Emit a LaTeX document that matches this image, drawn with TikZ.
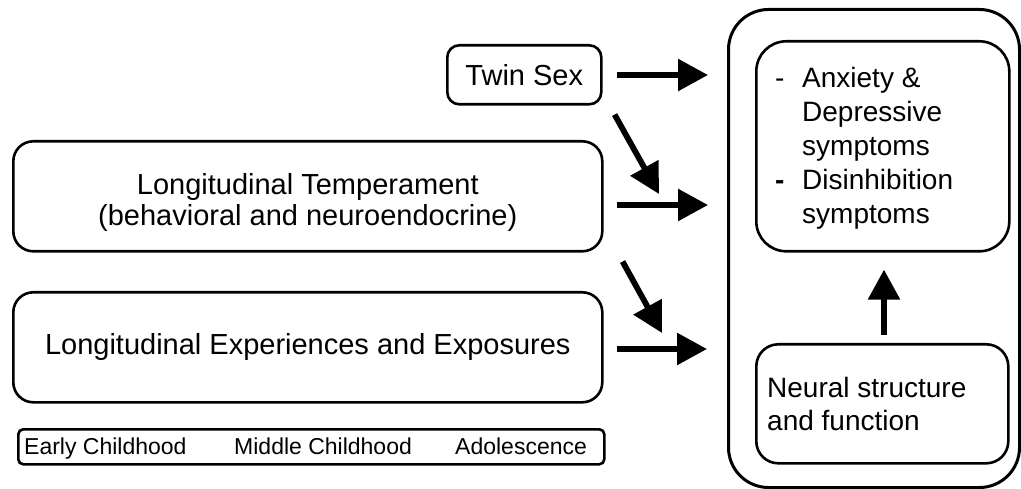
\documentclass[tikz,border=0pt]{standalone}
\usepackage{fontspec}
\setmainfont{Liberation Sans}
\usetikzlibrary{arrows.meta,calc}
\begin{document}
\begin{tikzpicture}[x=1pt,y=-1pt,
  box/.style={draw, line width=2.6pt, rounded corners=#1, inner sep=0pt, anchor=north west},
  arr/.style={line width=5.8pt, -{Triangle[length=30pt,width=31pt]}},
  bigtext/.style={font=\fontsize{29}{31}\selectfont},
  symtext/.style={font=\fontsize{28}{33.3}\selectfont, align=left, inner sep=0pt, anchor=north west},
  smalltext/.style={font=\fontsize{23}{26}\selectfont, inner sep=0pt, anchor=base west}]
\useasboundingbox (0,0) rectangle (1021,489);
% left column
\node[box=12pt, minimum width=154pt, minimum height=59pt, bigtext] (twin) at (446,44) {Twin Sex};
\node[box=20pt, minimum width=589pt, minimum height=110pt] (temp) at (12,140) {};
\node[bigtext, align=center, inner sep=0pt] (tempt) at ($(temp.center)+(0,6)$) {Longitudinal Temperament\\(behavioral and neuroendocrine)};
\node[box=20pt, minimum width=589pt, minimum height=110pt, bigtext] (exp) at (12,291) {Longitudinal Experiences and Exposures};
\node[box=5pt, minimum width=586pt, minimum height=35pt] (time) at (17,428) {};
\node[smalltext] (early) at (24,454) {Early Childhood};
\node[smalltext] (middle) at (234,454) {Middle Childhood};
\node[smalltext] (adol) at (455,454) {Adolescence};
% right column
\node[box=40pt, minimum width=291pt, minimum height=478pt, line width=3pt] (outer) at (727,8) {};
\node[box=30pt, minimum width=253pt, minimum height=210pt] (sym) at (755,40) {};
\node[symtext, font=\fontsize{28}{34}\selectfont] (symt) at (775,67) {\makebox[27pt][l]{-}Anxiety \&\\\hspace*{27pt}Depressive\\\hspace*{27pt}symptoms\\\makebox[27pt][l]{\textbf{-}}Disinhibition\\\hspace*{27pt}symptoms};
\node[box=22pt, minimum width=252pt, minimum height=119pt] (neural) at (755,343) {};
\node[symtext] (neurt) at (767,377) {Neural structure\\and function};
% connectors
\coordinate (tw1) at (617,75);
\draw[arr, shorten >=19pt] (tw1) -- (tw1 -| outer.west);
\coordinate (te1) at (617,205);
\draw[arr, shorten >=19pt] (te1) -- (te1 -| outer.west);
\coordinate (ex1) at (617,349);
\draw[arr, shorten >=20pt] (ex1) -- (ex1 -| outer.west);
\draw[arr] ($(twin.south east)+(12,9)$) -- (659,194);
\draw[arr] ($(temp.south east)+(19,9)$) -- (662,333);
\draw[arr, shorten <=8pt, shorten >=17pt] (neural.north -| 884,0) -- (sym.south -| 884,0);
\end{tikzpicture}
\end{document}
